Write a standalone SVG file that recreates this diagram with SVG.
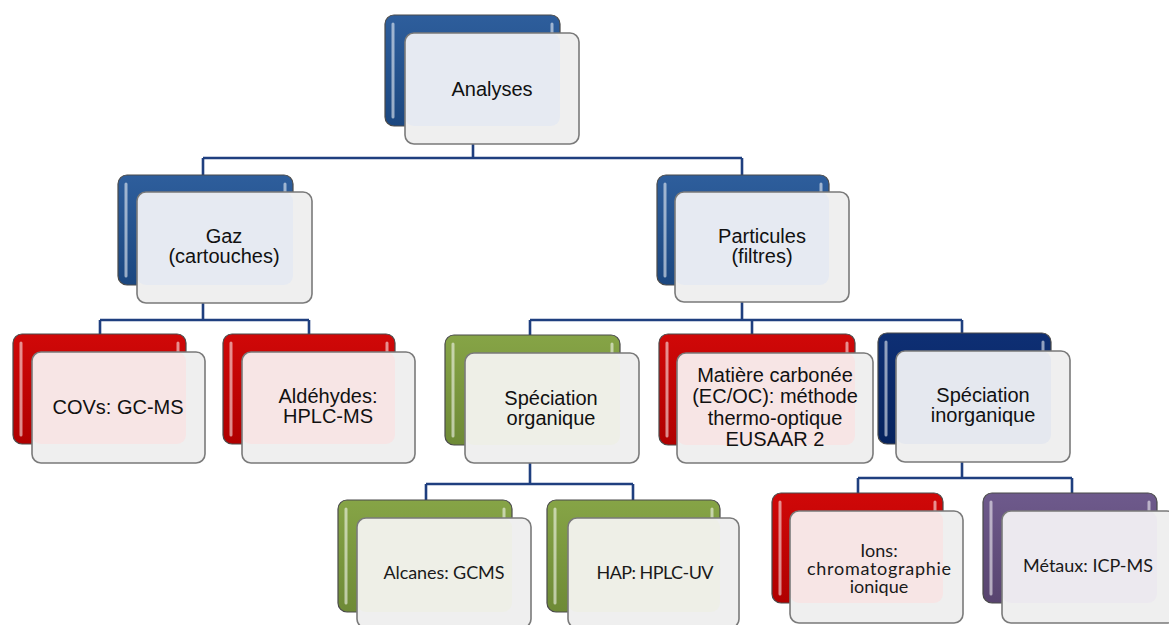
<svg xmlns="http://www.w3.org/2000/svg" width="1169" height="625" viewBox="0 0 1169 625">
<defs>
<linearGradient id="gBlue" x1="0" y1="0" x2="0" y2="1"><stop offset="0" stop-color="#2E5E9C"/><stop offset="1" stop-color="#1B4780"/></linearGradient>
<linearGradient id="gNavy" x1="0" y1="0" x2="0" y2="1"><stop offset="0" stop-color="#0E2F74"/><stop offset="1" stop-color="#06235E"/></linearGradient>
<linearGradient id="gRed" x1="0" y1="0" x2="0" y2="1"><stop offset="0" stop-color="#D00808"/><stop offset="1" stop-color="#B00000"/></linearGradient>
<linearGradient id="gGreen" x1="0" y1="0" x2="0" y2="1"><stop offset="0" stop-color="#86A446"/><stop offset="1" stop-color="#6E8A36"/></linearGradient>
<linearGradient id="gPurple" x1="0" y1="0" x2="0" y2="1"><stop offset="0" stop-color="#6E5A8C"/><stop offset="1" stop-color="#58446F"/></linearGradient>
</defs>
<style>
.back{stroke:#4a4a4a;stroke-width:1.2}
.hl{stroke:#ffffff;stroke-opacity:0.55;stroke-width:3;stroke-linecap:round}
.front{fill:#EFEFEF}
.frame{fill:none;stroke:#7a7a7a;stroke-width:1.6}
.tBlue{fill:#E6EAF2}.tNavy{fill:#E5E8EF}.tRed{fill:#F7E5E5}.tGreen{fill:#EEEFE7}.tPurple{fill:#ECE9EF}
.lbl{font-family:"Liberation Sans",Arial,sans-serif;font-size:20px;fill:#111;text-anchor:middle}
.lbl2{font-family:Lato,"Liberation Sans",sans-serif;font-size:18px;fill:#1a1a1a;text-anchor:middle}
.conn{fill:none;stroke:#1F3F7F;stroke-width:2.6}
</style>
<g id="connectors">
<path class="conn" d="M473,144V158M203,158H742M203,158V175M742,158V175"/>
<path class="conn" d="M203,303V320M100,320H309M100,320V334M309,320V334"/>
<path class="conn" d="M742,302V320M530,320H962M530,320V335M752,320V334M962,320V333"/>
<path class="conn" d="M530,463V484M426,484H633M426,484V500M633,484V500"/>
<path class="conn" d="M962,462V478M858,478H1072M858,478V493M1072,478V493"/>
</g>
<g id="analyses">
<rect class="back" x="385" y="15" width="175" height="111" rx="9" fill="url(#gBlue)"/>
<path class="hl" d="M393,24V117M552,24V40"/>
<rect class="front" x="405" y="33" width="174" height="111" rx="9"/>
<rect class="tBlue" x="405" y="33" width="155" height="93" rx="9"/>
<rect class="frame" x="405" y="33" width="174" height="111" rx="9"/>
<text class="lbl" x="492" y="96">Analyses</text>
</g>
<g id="gaz">
<rect class="back" x="118" y="175" width="175" height="110" rx="9" fill="url(#gBlue)"/>
<path class="hl" d="M126,184V276M285,184V200"/>
<rect class="front" x="137" y="192" width="175" height="111" rx="9"/>
<rect class="tBlue" x="137" y="192" width="156" height="93" rx="9"/>
<rect class="frame" x="137" y="192" width="175" height="111" rx="9"/>
<text class="lbl" x="224" y="243">Gaz<tspan x="224" dy="20">(cartouches)</tspan></text>
</g>
<g id="particules">
<rect class="back" x="657" y="175" width="172" height="110" rx="9" fill="url(#gBlue)"/>
<path class="hl" d="M665,184V276M821,184V200"/>
<rect class="front" x="675" y="192" width="174" height="110" rx="9"/>
<rect class="tBlue" x="675" y="192" width="154" height="93" rx="9"/>
<rect class="frame" x="675" y="192" width="174" height="110" rx="9"/>
<text class="lbl" x="762" y="243">Particules<tspan x="762" dy="20">(filtres)</tspan></text>
</g>
<g id="covs">
<rect class="back" x="13" y="334" width="173" height="110" rx="9" fill="url(#gRed)"/>
<path class="hl" d="M21,343V435M178,343V359"/>
<rect class="front" x="32" y="352" width="173" height="111" rx="9"/>
<rect class="tRed" x="32" y="352" width="154" height="92" rx="9"/>
<rect class="frame" x="32" y="352" width="173" height="111" rx="9"/>
<text class="lbl" x="118" y="414">COVs: GC-MS</text>
</g>
<g id="aldehydes">
<rect class="back" x="223" y="334" width="172" height="110" rx="9" fill="url(#gRed)"/>
<path class="hl" d="M231,343V435M387,343V359"/>
<rect class="front" x="242" y="352" width="173" height="111" rx="9"/>
<rect class="tRed" x="242" y="352" width="153" height="92" rx="9"/>
<rect class="frame" x="242" y="352" width="173" height="111" rx="9"/>
<text class="lbl" x="328" y="403">Aldéhydes:<tspan x="328" dy="20">HPLC-MS</tspan></text>
</g>
<g id="speciation-organique">
<rect class="back" x="445" y="335" width="175" height="110" rx="9" fill="url(#gGreen)"/>
<path class="hl" d="M453,344V436M612,344V360"/>
<rect class="front" x="465" y="353" width="174" height="110" rx="9"/>
<rect class="tGreen" x="465" y="353" width="155" height="92" rx="9"/>
<rect class="frame" x="465" y="353" width="174" height="110" rx="9"/>
<text class="lbl" x="551" y="405">Spéciation<tspan x="551" dy="20">organique</tspan></text>
</g>
<g id="matiere-carbonee">
<rect class="back" x="659" y="334" width="196" height="111" rx="9" fill="url(#gRed)"/>
<path class="hl" d="M667,343V436M847,343V359"/>
<rect class="front" x="677" y="353" width="196" height="110" rx="9"/>
<rect class="tRed" x="677" y="353" width="178" height="92" rx="9"/>
<rect class="frame" x="677" y="353" width="196" height="110" rx="9"/>
<text class="lbl" x="775" y="382">Matière carbonée<tspan x="775" dy="21.3">(EC/OC): méthode</tspan><tspan x="775" dy="21.3">thermo-optique</tspan><tspan x="775" dy="21.3">EUSAAR 2</tspan></text>
</g>
<g id="speciation-inorganique">
<rect class="back" x="878" y="333" width="173" height="111" rx="9" fill="url(#gNavy)"/>
<path class="hl" d="M886,342V435M1043,342V358"/>
<rect class="front" x="896" y="351" width="174" height="111" rx="9"/>
<rect class="tNavy" x="896" y="351" width="155" height="93" rx="9"/>
<rect class="frame" x="896" y="351" width="174" height="111" rx="9"/>
<text class="lbl" x="983" y="402">Spéciation<tspan x="983" dy="20">inorganique</tspan></text>
</g>
<g id="alcanes">
<rect class="back" x="338" y="500" width="174" height="112" rx="9" fill="url(#gGreen)"/>
<path class="hl" d="M346,509V603M504,509V525"/>
<rect class="front" x="357" y="518" width="174" height="110" rx="9"/>
<rect class="tGreen" x="357" y="518" width="155" height="94" rx="9"/>
<rect class="frame" x="357" y="518" width="174" height="110" rx="9"/>
<text class="lbl2" x="444" y="579" textLength="121">Alcanes: GCMS</text>
</g>
<g id="hap">
<rect class="back" x="547" y="500" width="173" height="112" rx="9" fill="url(#gGreen)"/>
<path class="hl" d="M555,509V603M712,509V525"/>
<rect class="front" x="568" y="518" width="171" height="110" rx="9"/>
<rect class="tGreen" x="568" y="518" width="152" height="94" rx="9"/>
<rect class="frame" x="568" y="518" width="171" height="110" rx="9"/>
<text class="lbl2" x="655" y="579" textLength="117">HAP: HPLC-UV</text>
</g>
<g id="ions">
<rect class="back" x="772" y="493" width="171" height="110" rx="9" fill="url(#gRed)"/>
<path class="hl" d="M780,502V594M935,502V518"/>
<rect class="front" x="790" y="511" width="173" height="112" rx="9"/>
<rect class="tRed" x="790" y="511" width="153" height="92" rx="9"/>
<rect class="frame" x="790" y="511" width="173" height="112" rx="9"/>
<text class="lbl2" x="879" y="557">Ions:<tspan x="879" dy="18" textLength="144">chromatographie</tspan><tspan x="879" dy="18">ionique</tspan></text>
</g>
<g id="metaux">
<rect class="back" x="983" y="493" width="174" height="110" rx="9" fill="url(#gPurple)"/>
<path class="hl" d="M991,502V594M1149,502V518"/>
<rect class="front" x="1002" y="511" width="174" height="112" rx="9"/>
<rect class="tPurple" x="1002" y="511" width="155" height="92" rx="9"/>
<rect class="frame" x="1002" y="511" width="174" height="112" rx="9"/>
<text class="lbl2" x="1088" y="572" textLength="130">Métaux: ICP-MS</text>
</g>
</svg>
